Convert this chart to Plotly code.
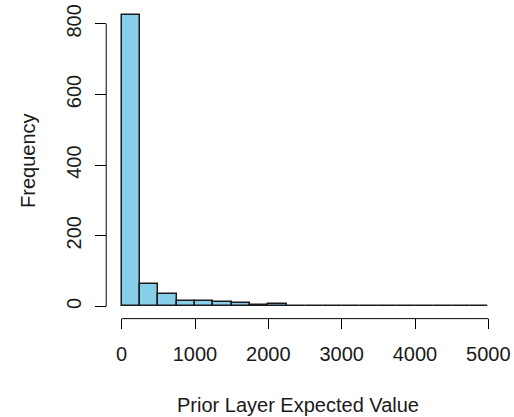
import plotly.graph_objects as go

# Histogram bins (left edges) of width 250 and counts
bin_starts = [0, 250, 500, 750, 1000, 1250, 1500, 1750, 2000, 2250,
              2500, 2750, 3000, 3250, 3500, 3750, 4000, 4250, 4500, 4750]
bin_width = 250
counts = [826, 62, 35, 16, 16, 12, 9, 3, 8, 2,
          2, 2, 0, 0, 1, 2, 1, 1, 2, 1]

x_ticks = [0, 1000, 2000, 3000, 4000, 5000]
y_ticks = [0, 200, 400, 600, 800]

x_title = "Prior Layer Expected Value"
y_title = "Frequency"

FONT = "Liberation Sans, Arial, sans-serif"
FS = 20
TXT = "#1a1a1a"

fig = go.Figure()
fig.add_trace(go.Bar(
    x=[s + bin_width / 2 for s in bin_starts],
    y=counts,
    width=bin_width,
    marker=dict(color="#87CEEB", line=dict(color="#1a1a1a", width=1.5)),
    hoverinfo="skip",
))

xmin, xmax = -200, 5200
ymin, ymax = -33, 859

fig.update_layout(
    width=514, height=417,
    margin=dict(l=107, r=9, t=3, b=99),
    paper_bgcolor="white", plot_bgcolor="white",
    showlegend=False,
    bargap=0,
    font=dict(family=FONT, size=FS, color=TXT),
    xaxis=dict(range=[xmin, xmax], tickvals=x_ticks, ticktext=[str(v) for v in x_ticks],
               ticks="outside", ticklen=10, tickwidth=1, tickcolor="black",
               showgrid=False, zeroline=False, showline=False,
               tickfont=dict(family=FONT, size=FS, color=TXT),
               ticklabelstandoff=8),
    yaxis=dict(range=[ymin, ymax], tickvals=y_ticks, ticktext=[str(v) for v in y_ticks],
               ticks="outside", ticklen=11, tickwidth=1, tickcolor="black",
               showgrid=False, zeroline=False, showline=False, tickangle=-90,
               tickfont=dict(family=FONT, size=FS, color=TXT),
               ticklabelstandoff=6),
    shapes=[
        dict(type="line", xref="x", yref="paper", x0=x_ticks[0], x1=x_ticks[-1], y0=-0.002, y1=-0.002,
             line=dict(color="black", width=1)),
        dict(type="line", xref="paper", yref="y", x0=-0.002, x1=-0.002, y0=y_ticks[0], y1=y_ticks[-1],
             line=dict(color="black", width=1)),
    ],
    annotations=[
        dict(text=x_title, xref="paper", yref="paper", x=(299 - 107) / 398, y=(318 - 405) / 315,
             xanchor="center", yanchor="middle", showarrow=False,
             font=dict(family=FONT, size=FS, color=TXT)),
        dict(text=y_title, xref="paper", yref="paper", x=(27 - 107) / 398, y=0.5,
             xanchor="center", yanchor="middle", showarrow=False, textangle=-90,
             font=dict(family=FONT, size=FS, color=TXT)),
    ],
)

fig.write_html("out.html")
